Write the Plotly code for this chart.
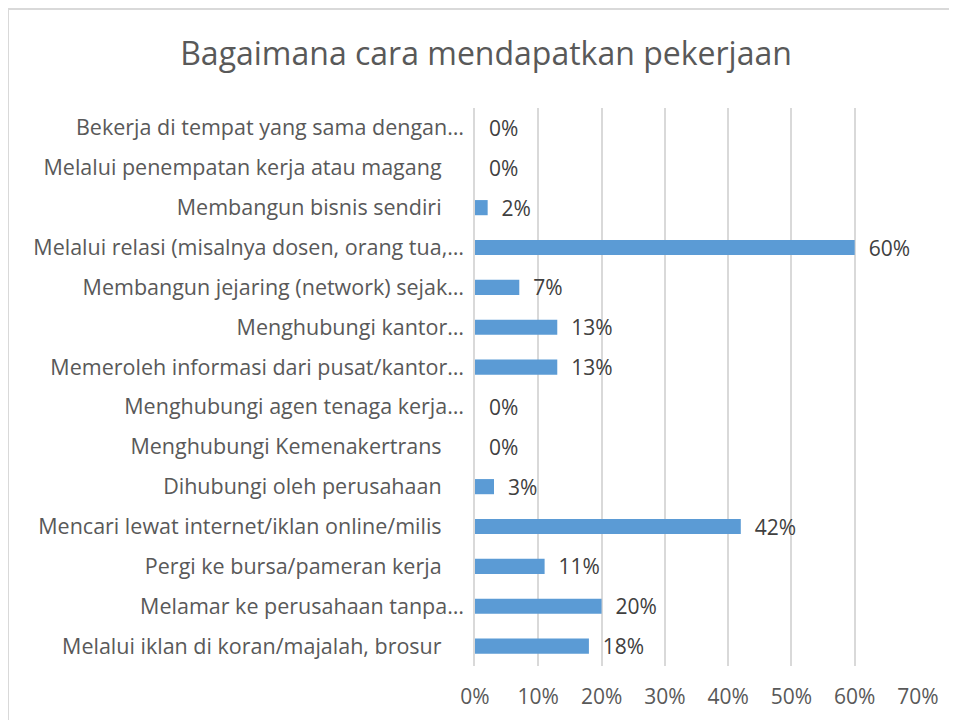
import plotly.graph_objects as go

categories = [
    "Bekerja di tempat yang sama dengan…",
    "Melalui penempatan kerja atau magang",
    "Membangun bisnis sendiri",
    "Melalui relasi (misalnya dosen, orang tua,…",
    "Membangun jejaring (network) sejak…",
    "Menghubungi kantor…",
    "Memeroleh informasi dari pusat/kantor…",
    "Menghubungi agen tenaga kerja…",
    "Menghubungi Kemenakertrans",
    "Dihubungi oleh perusahaan",
    "Mencari lewat internet/iklan online/milis",
    "Pergi ke bursa/pameran kerja",
    "Melamar ke perusahaan tanpa…",
    "Melalui iklan di koran/majalah, brosur",
]
values = [0, 0, 2, 60, 7, 13, 13, 0, 0, 3, 42, 11, 20, 18]
x_ticks = [0, 10, 20, 30, 40, 50, 60, 70]
x_tick_labels = ["0%", "10%", "20%", "30%", "40%", "50%", "60%", "70%"]

# Excel pads non-truncated labels; mimic with trailing non-breaking spaces
tick_text = [c if c.endswith("…") else c + "\u00a0" * 4 for c in categories]

# page body has an 8px margin, so the figure is sized/offset accordingly
W, H = 949, 712
L, R, T, B = 467, 39, 100, 54
pw, ph = W - L - R, H - T - B

FONT = "Open Sans"

fig = go.Figure(go.Bar(
    y=categories,
    x=values,
    orientation="h",
    marker=dict(color="#5b9bd5", line=dict(width=0)),
    text=[f"\u00a0\u00a0{v}%" for v in values],
    textposition="outside",
    constraintext="none",
    cliponaxis=False,
    textfont=dict(family=FONT, size=21, color="#404040"),
    hoverinfo="skip",
))

fig.update_layout(
    width=W, height=H,
    margin=dict(l=L, r=R, t=T, b=B),
    paper_bgcolor="white",
    plot_bgcolor="white",
    bargap=0.62,
    showlegend=False,
    title=dict(
        text="Bagaimana cara mendapatkan pekerjaan",
        x=478 / W, xanchor="center", y=1 - 46 / H, yanchor="middle",
        font=dict(family=FONT, size=32, color="#595959"),
    ),
    xaxis=dict(
        range=[0, 70],
        tickvals=x_ticks, ticktext=x_tick_labels,
        showgrid=True, gridcolor="#d9d9d9", gridwidth=1.5,
        zeroline=False, showline=False,
        tickfont=dict(family=FONT, size=21, color="#595959"),
        ticklabelstandoff=16,
        automargin=False,
        fixedrange=True,
    ),
    yaxis=dict(
        categoryorder="array", categoryarray=categories,
        autorange="reversed",
        tickvals=categories, ticktext=tick_text,
        showline=True, linecolor="#d9d9d9", linewidth=1.5,
        showgrid=False, zeroline=False,
        tickfont=dict(family=FONT, size=21.5, color="#595959"),
        ticklabelstandoff=5,
        automargin=False,
        fixedrange=True,
    ),
    shapes=[
        dict(type="line", xref="paper", yref="paper",
             x0=(0 - L) / pw, x1=(W - L) / pw,
             y0=(H - 1 - B) / ph, y1=(H - 1 - B) / ph,
             line=dict(color="#d9d9d9", width=2)),
        dict(type="line", xref="paper", yref="paper",
             x0=(0 - L) / pw, x1=(0 - L) / pw,
             y0=(0 - B) / ph, y1=(H - 1 - B) / ph,
             line=dict(color="#d9d9d9", width=2)),
    ],
)

fig.write_html("out.html")
